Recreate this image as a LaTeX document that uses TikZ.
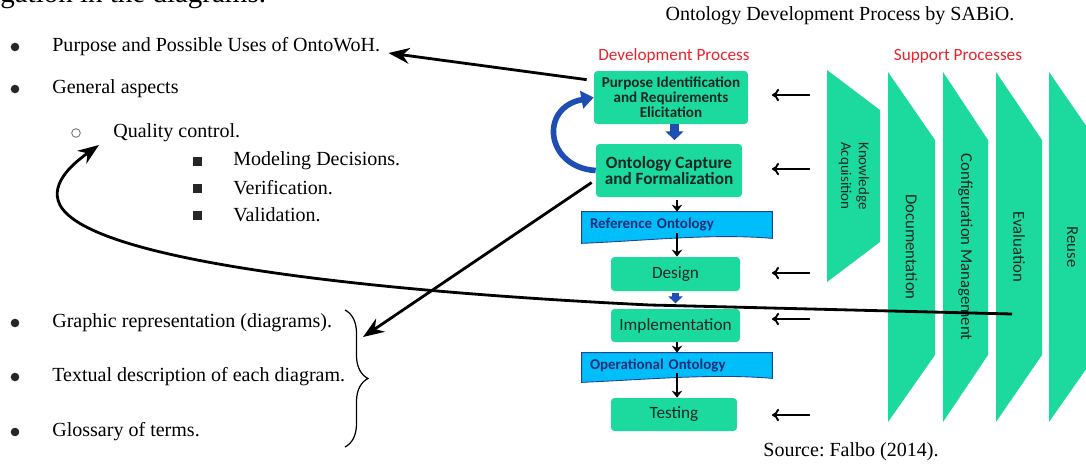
\documentclass[tikz,border=0pt]{standalone}
\usepackage{fontspec}
\setmainfont{Liberation Serif}
\newfontfamily\calib{Carlito}
\usetikzlibrary{positioning,arrows.meta,calc,backgrounds,decorations.pathreplacing}
\frenchspacing

\definecolor{procgreen}{RGB}{28,218,158}
\definecolor{docblue}{RGB}{0,190,250}
\definecolor{docedge}{RGB}{30,70,150}
\definecolor{doctext}{RGB}{20,45,120}
\definecolor{boxtext}{RGB}{20,40,35}
\definecolor{headred}{RGB}{235,35,45}
\definecolor{loopblue}{RGB}{30,78,180}

\tikzset{
  procbox/.style={rectangle, rounded corners=2pt, fill=procgreen, text=boxtext,
    font=\calib\fontsize{9.8}{11}\selectfont, align=center, inner sep=0pt},
  docbox/.style={inner xsep=0.16cm, inner ysep=0pt, minimum width=3.8cm, text width=3.48cm,
    align=left, text=doctext, font=\calib\bfseries\fontsize{8.5}{10}\selectfont},
  docshape/.style={fill=docblue, draw=docedge, line width=0.5pt},
  supshape/.style={fill=procgreen},
  suplabel/.style={rotate=-90, text=boxtext, font=\calib\fontsize{9.5}{11}\selectfont, align=center},
  heading/.style={text=headred, font=\calib\fontsize{9.8}{11}\selectfont},
  listitem/.style={anchor=west, inner sep=0pt, font=\fontsize{11.4}{13}\selectfont},
  notearrow/.style={line width=1.6pt, -{Stealth[length=12pt,width=9pt]}},
  flowarrow/.style={line width=1pt, -{Stealth[length=4pt,width=6pt]}},
  blockdown/.style={loopblue, line width=5pt, -{Triangle[length=5pt,width=10pt]}},
  backarrow/.style={loopblue, line width=3.2pt, -{Triangle[length=7pt,width=10pt]}},
  feedarrow/.style={line width=1.1pt, -{To[length=4pt,width=7pt]}},
}

\begin{document}
\begin{tikzpicture}[x=0.02cm, y=-0.02cm]
\useasboundingbox (0,0) rectangle (1086,464);
\clip (0,0) rectangle (1086,464);

% text column on the left
\node[anchor=base west, inner sep=0pt, font=\fontsize{16.5}{18}\selectfont] (topline) at (0,2) {gation in the diagrams.};
\node[listitem] (uses) at (52,47) {Purpose and Possible Uses of OntoWoH.};
\node[listitem] (general) at (52,89) {General aspects};
\node[listitem] (quality) at (113,133) {Quality control.};
\node[listitem] (decisions) at (233,161) {Modeling Decisions.};
\node[listitem] (verif) at (233,188) {Verification.};
\node[listitem] (valid) at (233,215) {Validation.};
\node[listitem] (graphic) at (52,323) {Graphic representation (diagrams).};
\node[listitem] (textual) at (52,377) {Textual description of each diagram.};
\node[listitem] (glossary) at (52,432) {Glossary of terms.};
\foreach \y in {47,89,323,377,432}
  \fill[black!85] (15,\y) circle[radius=4.3];
\draw[black!55, line width=0.5pt] (76,133) circle[radius=4.3];
\foreach \y in {161,188,215}
  \fill[black!85] (192.5,\y-4.5) rectangle (201.5,\y+4.5);

\coordinate (bracetop) at (345,310);
\coordinate (bracebot) at (345,447);
\draw[line width=0.7pt, decorate, decoration={brace, amplitude=0.46cm}] (bracetop) -- (bracebot);

% SABiO process
\node[font=\fontsize{11.4}{13}\selectfont] (title) at (840,16) {Ontology Development Process by SABiO.};
\node[heading] (devhead) at (674,56) {Development Process};
\node[heading] (suphead) at (958,56) {Support Processes};
\node[font=\fontsize{11.4}{13}\selectfont] (source) at (851,452) {Source: Falbo (2014).};

\fill[supshape] (827,70) -- (880,110) -- (880,242) -- (827,282) -- cycle;
\node[suplabel, font=\calib\fontsize{8.5}{10.2}\selectfont] (know) at (854,176) {Knowledge\\Acquisition};
\foreach \xl/\xr/\name/\txt in {888/935/docu/Documentation, 943/988/config/Configuration Management,
    996/1042/evalu/Evaluation, 1049/1096/reuse/Reuse} {
  \fill[supshape] (\xl,72) -- (\xr,140) -- (\xr,355) -- (\xl,422) -- cycle;
  \node[suplabel] (\name) at ({(\xl+\xr)/2},247) {\txt};
}

\node[procbox, minimum width=3.08cm, minimum height=1.06cm,
  font=\calib\bfseries\fontsize{8.6}{8.6}\selectfont] (ident) at (671,97.5)
  {Purpose Identification\\and Requirements\\Elicitation};
\node[procbox, minimum width=2.92cm, minimum height=1.06cm,
  font=\calib\bfseries\fontsize{9.8}{9.4}\selectfont] (capture) at (669,170.5)
  {Ontology Capture\\and Formalization};
\node[docbox, minimum height=0.52cm] (refont) at (677,225) {Reference Ontology};
\node[procbox, minimum width=2.58cm, minimum height=0.68cm] (design) at (675.5,274) {Design};
\node[procbox, minimum width=2.58cm, minimum height=0.66cm] (impl) at (675.5,325.5) {Implementation};
\node[docbox, minimum height=0.5cm] (opont) at (677,365.5) {Operational Ontology};
\node[procbox, minimum width=2.52cm, minimum height=0.66cm] (testing) at (674,414.5) {Testing};

\begin{scope}[on background layer]
  \draw[docshape] (refont.north west) -- (refont.north east) -- (refont.south east)
    .. controls +(-60,-5) and +(70,-3) .. ($(refont.south west)+(0,5)$) -- cycle;
  \draw[docshape] (opont.north west) -- (opont.north east) -- (opont.south east)
    .. controls +(-60,-5) and +(70,-3) .. ($(opont.south west)+(0,4)$) -- cycle;
\end{scope}

\draw[blockdown, shorten >=2pt] ([xshift=2]ident.south) -- ([xshift=2]ident.south |- capture.north);
\draw[blockdown, line width=4pt, -{Triangle[length=4pt,width=8pt]}, shorten <=1pt, shorten >=3pt]
  (design.south) -- (impl.north);
\path[flowarrow]
  (capture.south -| refont.north) edge[shorten <=1.5pt] (refont.north)
  ([yshift=4]refont.south) edge[shorten <=1pt] (refont.south |- design.north)
  (impl.south -| opont.north) edge (opont.north)
  ([yshift=4]opont.south) edge[shorten <=1pt] (opont.south |- testing.north);
\draw[backarrow] (capture.west) .. controls +(-50,-3) and +(-55,10) .. (ident.west);

\foreach \y [count=\i] in {95,169,273,319,415} {
  \coordinate (fs\i) at (810,\y);
  \coordinate (ft\i) at (772,\y);
  \draw[feedarrow] (fs\i) -- (ft\i);
}

% links between the list and the process
\coordinate (evalpt) at (1012,314);
\draw[notearrow] ([shift={(-7,9)}]ident.north west) -- ([shift={(8,6)}]uses.east);
\draw[notearrow] ([shift={(-4,12)}]capture.west) -- ([shift={(18,27)}]bracetop);
\draw[notearrow] (evalpt) -- (650,305) .. controls (380,292) and (90,262) .. (60,205)
  .. controls (48,182) and (78,160) .. ([shift={(-14,12)}]quality.west);
\end{tikzpicture}
\end{document}
